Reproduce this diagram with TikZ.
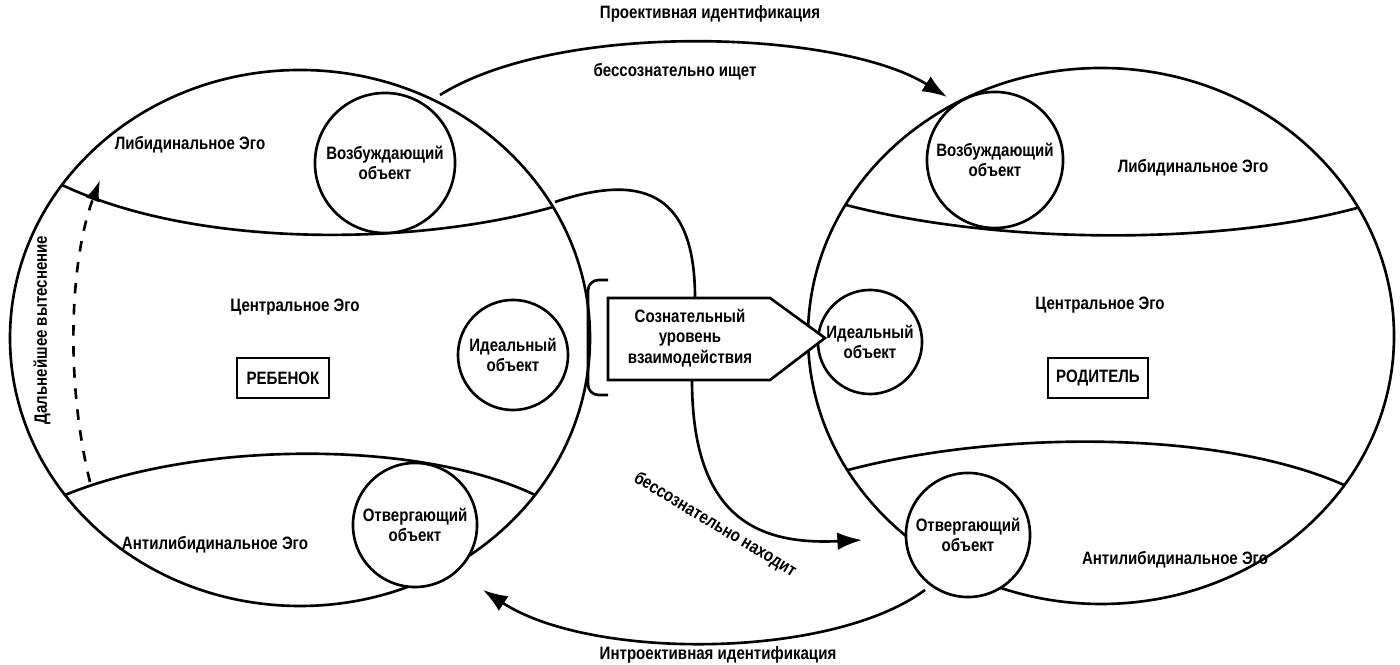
\documentclass[tikz,border=0pt]{standalone}
\usepackage{fontspec}
\setmainfont[FakeStretch=0.84]{Liberation Sans}
\usetikzlibrary{arrows.meta}
\begin{document}
\begin{tikzpicture}[x=0.01cm,y=-0.01cm,
  ln/.style={line width=0.75pt},
  lbl/.style={font=\fontsize{5.1pt}{5.9pt}\selectfont\bfseries,align=center,inner sep=0pt},
  obj/.style={circle,draw,line width=0.75pt,lbl,fill=white},
  arr/.style={ln,-{Latex[length=7pt,width=5pt]}}]
\useasboundingbox (0,0) rectangle (1400,665);
% big circles
\draw[ln] (300,338) ellipse [x radius=290,y radius=268];
\draw[ln] (1101,336) ellipse [x radius=293,y radius=268];
% dividers
\draw[ln] (62,185) .. controls (200,250) and (420,245) .. (553,207);
\draw[ln] (65,495) .. controls (200,440) and (420,440) .. (535,495);
\draw[ln] (846,205) .. controls (1000,245) and (1220,245) .. (1357,208);
\draw[ln] (848,470) .. controls (1000,430) and (1220,430) .. (1344,485);
% small circles
\node[obj,minimum size=1.40cm] (exL) at (385,163) {Возбуждающий\\объект};
\node[obj,minimum size=1.10cm] (idL) at (513,355) {Идеальный\\объект};
\node[obj,minimum size=1.24cm] (rjL) at (415,525) {Отвергающий\\объект};
\node[obj,minimum size=1.36cm] (exR) at (995,160) {Возбуждающий\\объект};
\node[obj,minimum size=1.04cm] (idR) at (870,342) {Идеальный\\объект};
\node[obj,minimum size=1.24cm] (rjR) at (968,535) {Отвергающий\\объект};
% labels
\node[lbl] (l1) at (190,145) {Либидинальное Эго};
\node[lbl] (l2) at (295,307) {Центральное Эго};
\node[lbl] (l3) at (215,545) {Антилибидинальное Эго};
\node[lbl] (r1) at (1193,168) {Либидинальное Эго};
\node[lbl] (r2) at (1100,305) {Центральное Эго};
\node[lbl] (r3) at (1175,560) {Антилибидинальное Эго};
\node[draw,line width=0.5pt,lbl,minimum width=0.92cm,minimum height=0.40cm] (child) at (283,378) {РЕБЕНОК};
\node[draw,line width=0.5pt,lbl,minimum width=1.00cm,minimum height=0.40cm] (par) at (1098,378) {РОДИТЕЛЬ};
% central connector
\draw[ln,rounded corners=3pt] (608,280) -- (588,280) -- (588,395) -- (608,395);
\draw[ln,fill=white] (608,298) -- (770,298) -- (825,338) -- (770,380) -- (608,380) -- cycle;
\node[lbl] (cons) at (690,338) {Сознательный\\уровень\\взаимодействия};
\coordinate (tl) at (555,202);
\coordinate (tb) at (695,298);
\draw[ln] (tl) .. controls (650,170) and (695,200) .. (tb);
\coordinate (bb) at (692,380);
\coordinate (be) at (862,540);
\draw[arr] (bb) .. controls (692,520) and (760,545) .. (be);
\node[lbl,rotate=-31] (find) at (715,525) {бессознательно находит};
% top and bottom arcs
\coordinate (ts) at (440,95);
\coordinate (te) at (947,97);
\draw[arr] (ts) .. controls (560,20) and (840,30) .. (te);
\node[lbl] (proj) at (710,14) {Проективная идентификация};
\node[lbl] (seek) at (675,72) {бессознательно ищет};
\coordinate (bs) at (925,590);
\coordinate (bend) at (483,590);
\draw[arr] (bs) .. controls (830,660) and (590,660) .. (bend);
\node[lbl] (intro) at (718,655) {Интроективная идентификация};
% dashed
\coordinate (ds) at (90,482);
\coordinate (de) at (100,180);
\draw[ln,dashed,-{Latex[length=6pt,width=4pt]}] (ds) .. controls (65,380) and (70,260) .. (de);
\node[lbl,rotate=90] (rep) at (42,330) {Дальнейшее вытеснение};
\end{tikzpicture}
\end{document}
